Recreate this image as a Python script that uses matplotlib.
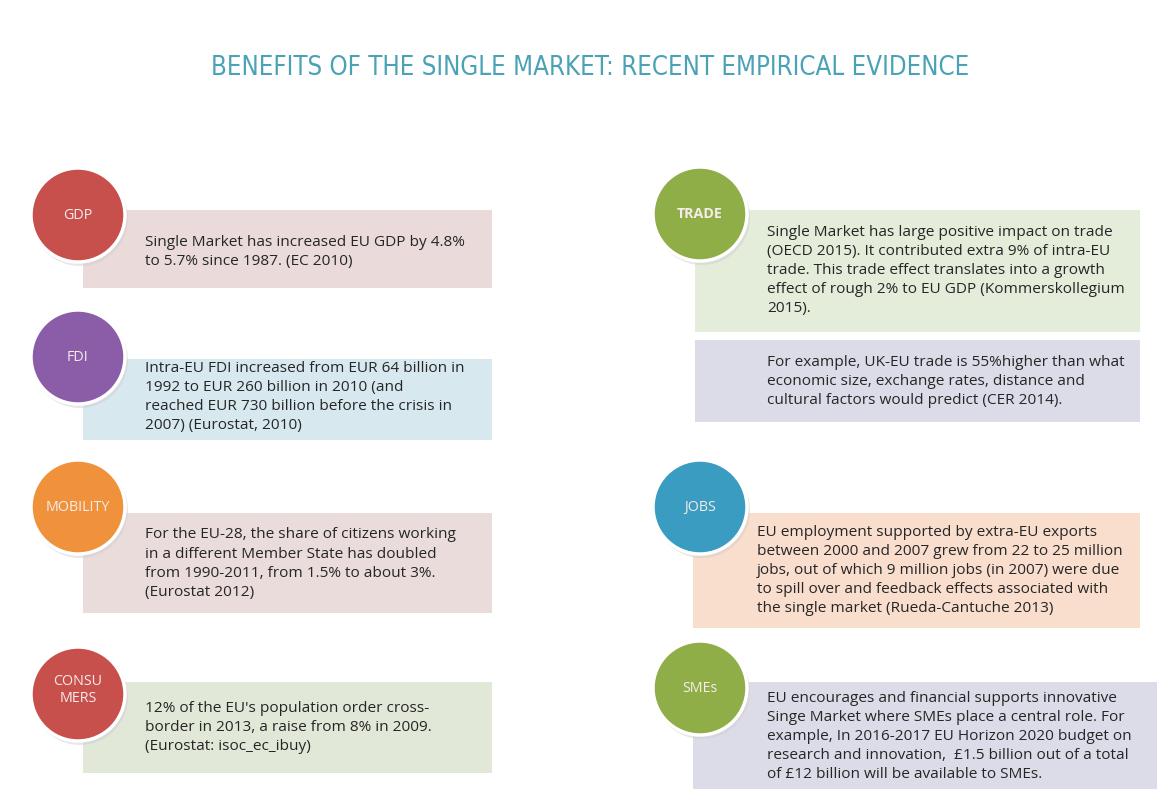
import matplotlib
matplotlib.use("Agg")
import matplotlib.pyplot as plt
from matplotlib.patches import Rectangle, Circle

# --- content ---
title = "BENEFITS OF THE SINGLE MARKET: RECENT EMPIRICAL EVIDENCE"

labels = ["GDP", "FDI", "MOBILITY", "CONSU\nMERS", "TRADE", "JOBS", "SMEs"]
circle_colors = ["#c8504c", "#8b5ca8", "#f0923b", "#c8504c", "#8fae47", "#3b9cc1", "#8fae47"]

texts = [
    ["Single Market has increased EU GDP by 4.8%",
     "to 5.7% since 1987. (EC 2010)"],
    ["Intra-EU FDI increased from EUR 64 billion in",
     "1992 to EUR 260 billion in 2010 (and",
     "reached EUR 730 billion before the crisis in",
     "2007) (Eurostat, 2010)"],
    ["For the EU-28, the share of citizens working",
     "in a different Member State has doubled",
     "from 1990-2011, from 1.5% to about 3%.",
     "(Eurostat 2012)"],
    ["12% of the EU's population order cross-",
     "border in 2013, a raise from 8% in 2009.",
     "(Eurostat: isoc_ec_ibuy)"],
    ["Single Market has large positive impact on trade",
     "(OECD 2015). It contributed extra 9% of intra-EU",
     "trade. This trade effect translates into a growth",
     "effect of rough 2% to EU GDP (Kommerskollegium",
     "2015)."],
    ["EU employment supported by extra-EU exports",
     "between 2000 and 2007 grew from 22 to 25 million",
     "jobs, out of which 9 million jobs (in 2007) were due",
     "to spill over and feedback effects associated with",
     "the single market (Rueda-Cantuche 2013)"],
    ["EU encourages and financial supports innovative",
     "Singe Market where SMEs place a central role. For",
     "example, In 2016-2017 EU Horizon 2020 budget on",
     "research and innovation,  \u00a31.5 billion out of a total",
     "of \u00a312 billion will be available to SMEs."],
]
box_colors = ["#eadada", "#d8e8ef", "#eadcda", "#e1e8d8", "#e4ecda", "#f9ddcd", "#dcdce8"]

extra_text = ["For example, UK-EU trade is 55%higher than what",
              "economic size, exchange rates, distance and",
              "cultural factors would predict (CER 2014)."]
extra_color = "#dcdce8"

# --- layout (pixels) ---
circle_xy = [(78, 215), (78, 357), (78, 507), (78, 694),
             (700, 214), (700, 507), (700, 688)]
box_rect = [(83, 210, 409, 78), (83, 359, 409, 81), (83, 513, 409, 100),
            (83, 682, 409, 91), (695, 210, 445, 122), (693, 513, 447, 115),
            (693, 682, 464, 107)]
text_x = [145, 145, 145, 145, 767, 757, 767]
text_y0 = [242, 368, 535, 708, 232, 532, 698]
extra_rect = (695, 340, 445, 82)
line_dy = 19.2
radius = 47

fig = plt.figure(figsize=(11.57, 7.89), dpi=100)
ax = fig.add_axes([0, 0, 1, 1])
ax.set_xlim(0, 1157)
ax.set_ylim(789, 0)
ax.axis("off")

body_font = "Open Sans"
body_size = 11.1

ax.text(590, 68, title, ha="center", va="center", fontsize=18.5,
        color="#4aa2b6", family="DejaVu Sans", fontstretch="condensed")

for i in range(len(labels)):
    x, y, w, h = box_rect[i]
    ax.add_patch(Rectangle((x, y), w, h, facecolor=box_colors[i], edgecolor="none", zorder=1))
    for j, line in enumerate(texts[i]):
        ax.text(text_x[i], text_y0[i] + j * line_dy, line, ha="left", va="center",
                fontsize=body_size, color="#262626", family=body_font, zorder=3)

x, y, w, h = extra_rect
ax.add_patch(Rectangle((x, y), w, h, facecolor=extra_color, edgecolor="none", zorder=1))
for j, line in enumerate(extra_text):
    ax.text(767, 362 + j * line_dy, line, ha="left", va="center",
            fontsize=body_size, color="#262626", family=body_font, zorder=3)

for i, lab in enumerate(labels):
    cx, cy = circle_xy[i]
    ax.add_patch(Circle((cx + 2, cy + 3), radius + 1, facecolor="#d0d0d0", edgecolor="none",
                        alpha=0.5, zorder=4))
    ax.add_patch(Circle((cx, cy), radius, facecolor=circle_colors[i], edgecolor="white",
                        linewidth=2.5, zorder=5))
    ly = cy - 4 if "\n" in lab else cy
    ax.text(cx, ly, lab, ha="center", va="center", fontsize=10.3,
            color="#f6ecea", family=body_font, zorder=6, linespacing=1.15,
            fontweight="bold" if lab == "TRADE" else "normal")

fig.savefig("out.png", dpi=100)
